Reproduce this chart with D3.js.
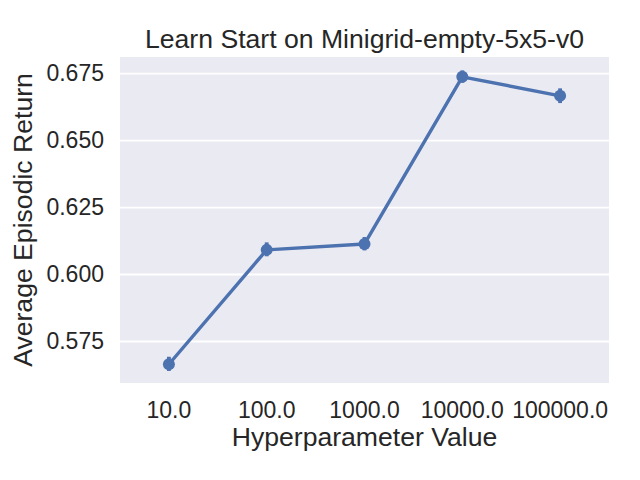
<!DOCTYPE html>
<html>
<head>
<meta charset="utf-8">
<script src="https://cdn.jsdelivr.net/npm/d3@7"></script>
<style>
  body { margin: 0; background: #fff; }
  text { font-family: "Liberation Sans", Arial, sans-serif; fill: #262626; }
</style>
</head>
<body>
<svg id="chart" width="640" height="480"></svg>
<script>
// hyperparameter values (categorical x axis)
var categories = ["10.0", "100.0", "1000.0", "10000.0", "100000.0"];
// mean episodic return per category
var means = [0.5665, 0.6092, 0.6114, 0.6738, 0.6667];
// confidence interval bounds
var ciLow = [0.5640, 0.6068, 0.6090, 0.6716, 0.6640];
var ciHigh = [0.5693, 0.6120, 0.6140, 0.6762, 0.6695];
var yTicks = [0.575, 0.600, 0.625, 0.650, 0.675];

var svg = d3.select("#chart"),
    margin = {top: 57, right: 31, bottom: 97, left: 120},
    width = +svg.attr("width") - margin.left - margin.right,
    height = +svg.attr("height") - margin.top - margin.bottom;

var x = d3.scaleBand().domain(categories).range([0, width]);
var y = d3.scaleLinear().domain([0.5595, 0.6812]).range([height, 0]);

var g = svg.append("g")
  .attr("transform", "translate(" + margin.left + "," + margin.top + ")");

g.append("rect")
  .attr("width", width)
  .attr("height", height)
  .attr("fill", "#eaeaf2");

// horizontal grid
g.selectAll(".grid")
  .data(yTicks)
  .enter().append("line")
    .attr("class", "grid")
    .attr("x1", 0)
    .attr("x2", width)
    .attr("y1", function(d) { return y(d); })
    .attr("y2", function(d) { return y(d); })
    .attr("stroke", "#fff")
    .attr("stroke-width", 1.8);

var yAxis = g.append("g")
  .call(d3.axisLeft(y).tickValues(yTicks).tickFormat(d3.format(".3f")).tickSize(0).tickPadding(16));
yAxis.select(".domain").remove();
yAxis.selectAll("text").style("font-size", "23px").attr("fill", "#262626");

var xAxis = g.append("g")
  .attr("transform", "translate(0," + height + ")")
  .call(d3.axisBottom(x).tickSize(0).tickPadding(18.5));
xAxis.select(".domain").remove();
xAxis.selectAll("text").style("font-size", "23px").attr("fill", "#262626");

var cx = function(d, i) { return x(categories[i]) + x.bandwidth() / 2; };

// line
g.append("path")
  .datum(means)
  .attr("fill", "none")
  .attr("stroke", "#4c72b0")
  .attr("stroke-width", 3.4)
  .attr("stroke-linejoin", "round")
  .attr("d", d3.line().x(cx).y(function(d) { return y(d); }));

// error bars
g.selectAll(".err")
  .data(means)
  .enter().append("line")
    .attr("class", "err")
    .attr("x1", cx)
    .attr("x2", cx)
    .attr("y1", function(d, i) { return y(ciLow[i]); })
    .attr("y2", function(d, i) { return y(ciHigh[i]); })
    .attr("stroke", "#4c72b0")
    .attr("stroke-width", 3.8);

// points
g.selectAll(".pt")
  .data(means)
  .enter().append("circle")
    .attr("class", "pt")
    .attr("cx", cx)
    .attr("cy", function(d) { return y(d); })
    .attr("r", 6)
    .attr("fill", "#4c72b0");

svg.append("text")
  .attr("x", margin.left + width / 2)
  .attr("y", 48)
  .attr("text-anchor", "middle")
  .style("font-size", "26.6px")
  .text("Learn Start on Minigrid-empty-5x5-v0");

svg.append("text")
  .attr("x", margin.left + width / 2)
  .attr("y", 446)
  .attr("text-anchor", "middle")
  .style("font-size", "26.6px")
  .text("Hyperparameter Value");

svg.append("text")
  .attr("transform", "translate(32," + (margin.top + height / 2) + ") rotate(-90)")
  .attr("text-anchor", "middle")
  .style("font-size", "26.6px")
  .text("Average Episodic Return");
</script>
</body>
</html>
